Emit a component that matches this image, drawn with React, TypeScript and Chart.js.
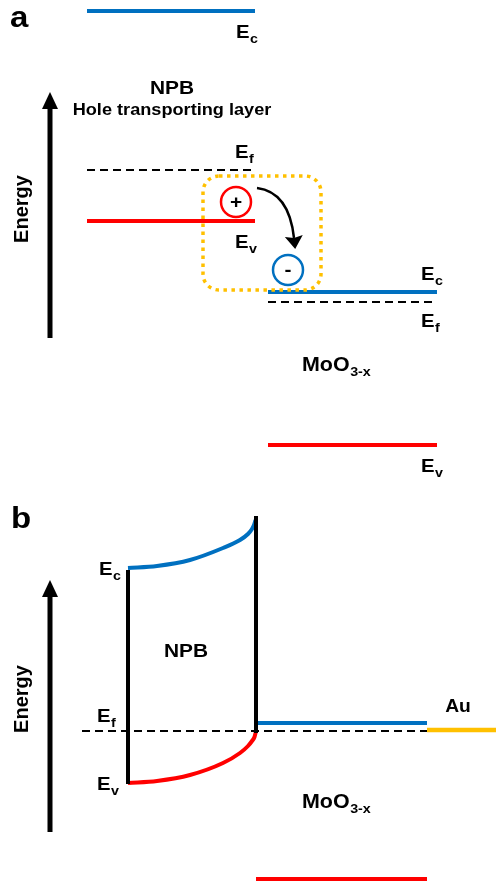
import React, { useEffect, useRef } from "react";
import { Chart, registerables } from "chart.js";

Chart.register(...registerables);

// ---------- Panel a: flat-band levels (diagram units, y grows downward) ----------
const NPB_A_SPAN = [87, 255];
const NPB_A_LEVELS = [11, 170, 221]; // Ec, Ef, Ev
const MOO_A_SPAN = [268, 437];
const MOO_A_LEVELS = [292, 302, 445]; // Ec, Ef, Ev
const CHARGE_X = [236, 288];
const CHARGE_Y = [202, 270];
const CHARGE_SIGNS = ["+", "-"];
const BOX_A = [203, 176, 321, 290]; // left, top, right, bottom
const TRANSFER_X = [257, 289, 294];
const TRANSFER_Y = [188, 192, 238];
const ARROW_A = [50, 92, 338]; // x, tip, bottom

// ---------- Panel b: bent bands ----------
const NPB_B_EDGES = [128, 256];
const NPB_B_EC_X = [128, 157, 190, 223, 240, 248, 252, 254, 255.5];
const NPB_B_EC_Y = [568, 566, 560, 548, 540, 534, 529, 525, 520];
const NPB_B_EV_X = [128, 157, 190, 223, 240, 248, 252, 254.5, 256];
const NPB_B_EV_Y = [783, 781, 775, 763, 753, 746, 741, 737, 731];
const NPB_B_LEFT_WALL = [570, 784];
const NPB_B_RIGHT_WALL = [516, 733];
const MOO_B_SPAN = [256, 427];
const MOO_B_LEVELS = [723, 879]; // Ec, Ev
const FERMI_B = [82, 427, 731]; // x0, x1, y
const AU_B = [427, 496, 730]; // x0, x1, y
const ARROW_B = [50, 580, 832];

// ---------- Text ----------
const PLAIN_LABELS = [
  { t: "a", x: 10, y: 27, size: 30, align: "left" },
  { t: "b", x: 11, y: 528, size: 30, align: "left" },
  { t: "NPB", x: 172, y: 94, size: 19, align: "center" },
  { t: "Hole transporting layer", x: 172, y: 115, size: 16.5, align: "center" },
  { t: "NPB", x: 186, y: 657, size: 19, align: "center" },
  { t: "Au", x: 458, y: 712, size: 17.5, align: "center" },
];
const SUB_LABELS = [
  { t: "E", s: "c", x: 236, y: 38 },
  { t: "E", s: "f", x: 235, y: 158 },
  { t: "E", s: "v", x: 235, y: 248 },
  { t: "E", s: "c", x: 421, y: 280 },
  { t: "E", s: "f", x: 421, y: 327 },
  { t: "E", s: "v", x: 421, y: 472 },
  { t: "E", s: "c", x: 99, y: 575 },
  { t: "E", s: "f", x: 97, y: 722 },
  { t: "E", s: "v", x: 97, y: 790 },
  { t: "MoO", s: "3-x", x: 302, y: 371 },
  { t: "MoO", s: "3-x", x: 302, y: 808 },
];
const AXIS_TITLES = [
  { t: "Energy", x: 22, y: 209 },
  { t: "Energy", x: 22, y: 699 },
];

const BLUE = "#0070C0";
const RED = "#FF0000";
const YELLOW = "#FFC000";
const FONT = "'Liberation Sans', Arial, sans-serif";
const SX = 1.1;

function seg(x0: number, x1: number, y0: number, y1: number, color: string, width = 4, dash: number[] = []) {
  return {
    type: "line" as const,
    data: [
      { x: x0, y: y0 },
      { x: x1, y: y1 },
    ],
    borderColor: color,
    borderWidth: width,
    borderDash: dash,
    pointRadius: 0,
    showLine: true,
    clip: false as any,
    borderCapStyle: "butt" as const,
  };
}

function curve(xs: number[], ys: number[], color: string) {
  return {
    type: "line" as const,
    data: xs.map((x, i) => ({ x, y: ys[i] })),
    borderColor: color,
    borderWidth: 4,
    pointRadius: 0,
    showLine: true,
    cubicInterpolationMode: "monotone" as const,
    borderJoinStyle: "round" as const,
    clip: false as any,
  };
}

function drawStretched(ctx: CanvasRenderingContext2D, text: string, x: number, y: number, align: string) {
  ctx.save();
  ctx.translate(x, y);
  ctx.scale(SX, 1);
  ctx.textAlign = align as CanvasTextAlign;
  ctx.fillText(text, 0, 0);
  ctx.restore();
}

const overlayPlugin = {
  id: "overlay",
  afterDatasetsDraw(chart: any) {
    const ctx: CanvasRenderingContext2D = chart.ctx;
    const X = (v: number) => chart.scales.x.getPixelForValue(v);
    const Y = (v: number) => chart.scales.y.getPixelForValue(v);

    // dotted rounded box
    ctx.save();
    ctx.strokeStyle = YELLOW;
    ctx.lineWidth = 3.5;
    ctx.setLineDash([3.5, 4.5]);
    ctx.beginPath();
    (ctx as any).roundRect(X(BOX_A[0]), Y(BOX_A[1]), X(BOX_A[2]) - X(BOX_A[0]), Y(BOX_A[3]) - Y(BOX_A[1]), 16);
    ctx.stroke();
    ctx.restore();

    // transfer arrow
    ctx.save();
    ctx.strokeStyle = "#000";
    ctx.fillStyle = "#000";
    ctx.lineWidth = 2.5;
    ctx.beginPath();
    ctx.moveTo(X(TRANSFER_X[0]), Y(TRANSFER_Y[0]));
    ctx.quadraticCurveTo(X(TRANSFER_X[1]), Y(TRANSFER_Y[1]), X(TRANSFER_X[2]), Y(TRANSFER_Y[2]));
    ctx.stroke();
    const ex = X(TRANSFER_X[2]);
    const ey = Y(TRANSFER_Y[2]);
    const dx = ex - X(TRANSFER_X[1]);
    const dy = ey - Y(TRANSFER_Y[1]);
    const len = Math.hypot(dx, dy);
    const ux = dx / len;
    const uy = dy / len;
    const tipX = ex + ux * 11;
    const tipY = ey + uy * 11;
    const bx = ex - ux * 2;
    const by = ey - uy * 2;
    ctx.beginPath();
    ctx.moveTo(tipX, tipY);
    ctx.lineTo(bx - uy * 9, by + ux * 9);
    ctx.lineTo(ex, ey);
    ctx.lineTo(bx + uy * 9, by - ux * 9);
    ctx.closePath();
    ctx.fill();
    ctx.restore();

    // energy arrows
    for (const a of [ARROW_A, ARROW_B]) {
      const x = X(a[0]);
      const tip = Y(a[1]);
      const bot = Y(a[2]);
      ctx.save();
      ctx.fillStyle = "#000";
      ctx.fillRect(x - 2.5, tip + 14, 5, bot - tip - 14);
      ctx.beginPath();
      ctx.moveTo(x, tip);
      ctx.lineTo(x - 8, tip + 17);
      ctx.lineTo(x + 8, tip + 17);
      ctx.closePath();
      ctx.fill();
      ctx.restore();
    }

    // charge signs
    ctx.save();
    ctx.fillStyle = "#000";
    ctx.font = `bold 19px ${FONT}`;
    ctx.textBaseline = "middle";
    CHARGE_SIGNS.forEach((s, i) => {
      drawStretched(ctx, s, X(CHARGE_X[i]), Y(CHARGE_Y[i]) + 1, "center");
    });
    ctx.restore();

    // plain labels
    ctx.save();
    ctx.fillStyle = "#000";
    ctx.textBaseline = "alphabetic";
    for (const l of PLAIN_LABELS) {
      ctx.font = `bold ${l.size}px ${FONT}`;
      drawStretched(ctx, l.t, X(l.x), Y(l.y), l.align);
    }
    // subscript labels
    for (const l of SUB_LABELS) {
      const big = l.t === "MoO" ? 19.5 : 18.5;
      ctx.font = `bold ${big}px ${FONT}`;
      const w = ctx.measureText(l.t).width * SX;
      drawStretched(ctx, l.t, X(l.x), Y(l.y), "left");
      ctx.font = `bold 13px ${FONT}`;
      drawStretched(ctx, l.s, X(l.x) + w + 0.5, Y(l.y) + 5, "left");
    }
    // rotated axis titles
    for (const l of AXIS_TITLES) {
      ctx.save();
      ctx.translate(X(l.x), Y(l.y));
      ctx.rotate(-Math.PI / 2);
      ctx.font = `bold 20px ${FONT}`;
      ctx.textAlign = "center";
      ctx.textBaseline = "middle";
      ctx.fillText(l.t, 0, 0);
      ctx.restore();
    }
    ctx.restore();
  },
};

export default function App() {
  const ref = useRef<HTMLCanvasElement | null>(null);

  useEffect(() => {
    if (!ref.current) return;
    const datasets: any[] = [
      // panel a, NPB
      seg(NPB_A_SPAN[0], NPB_A_SPAN[1], NPB_A_LEVELS[0], NPB_A_LEVELS[0], BLUE),
      seg(NPB_A_SPAN[0], NPB_A_SPAN[1], NPB_A_LEVELS[1], NPB_A_LEVELS[1], "#000", 2, [8, 5]),
      seg(NPB_A_SPAN[0], NPB_A_SPAN[1], NPB_A_LEVELS[2], NPB_A_LEVELS[2], RED),
      // panel a, MoO3-x
      seg(MOO_A_SPAN[0], MOO_A_SPAN[1], MOO_A_LEVELS[0], MOO_A_LEVELS[0], BLUE),
      seg(MOO_A_SPAN[0], MOO_A_SPAN[1], MOO_A_LEVELS[1], MOO_A_LEVELS[1], "#000", 2, [8, 5]),
      seg(MOO_A_SPAN[0], MOO_A_SPAN[1], MOO_A_LEVELS[2], MOO_A_LEVELS[2], RED),
      // charges
      {
        type: "scatter",
        data: CHARGE_X.map((x, i) => ({ x, y: CHARGE_Y[i] })),
        pointRadius: 15,
        pointBorderWidth: 2.5,
        pointBackgroundColor: "#fff",
        pointBorderColor: [RED, BLUE],
        showLine: false,
        clip: false,
      },
      // panel b
      seg(FERMI_B[0], FERMI_B[1], FERMI_B[2], FERMI_B[2], "#000", 2, [8, 5]),
      seg(NPB_B_EDGES[0], NPB_B_EDGES[0], NPB_B_LEFT_WALL[0], NPB_B_LEFT_WALL[1], "#000", 4),
      seg(NPB_B_EDGES[1], NPB_B_EDGES[1], NPB_B_RIGHT_WALL[0], NPB_B_RIGHT_WALL[1], "#000", 4),
      curve(NPB_B_EC_X, NPB_B_EC_Y, BLUE),
      curve(NPB_B_EV_X, NPB_B_EV_Y, RED),
      seg(MOO_B_SPAN[0], MOO_B_SPAN[1], MOO_B_LEVELS[0], MOO_B_LEVELS[0], BLUE),
      seg(MOO_B_SPAN[0], MOO_B_SPAN[1], MOO_B_LEVELS[1], MOO_B_LEVELS[1], RED),
      seg(AU_B[0], AU_B[1], AU_B[2], AU_B[2], YELLOW, 4.5),
    ];

    const chart = new Chart(ref.current, {
      type: "scatter",
      data: { datasets },
      options: {
        animation: false,
        responsive: false,
        devicePixelRatio: 1,
        layout: { padding: 0, autoPadding: false },
        plugins: { legend: { display: false }, tooltip: { enabled: false } },
        events: [],
        scales: {
          x: { type: "linear", min: 0, max: 496, display: false },
          y: { type: "linear", min: 0, max: 885, reverse: true, display: false },
        },
      },
      plugins: [overlayPlugin],
    });
    return () => chart.destroy();
  }, []);

  return (
    <div style={{ position: "absolute", left: 0, top: 0, width: 496, height: 885, background: "#fff" }}>
      <canvas ref={ref} width={496} height={885} style={{ display: "block" }} />
    </div>
  );
}
